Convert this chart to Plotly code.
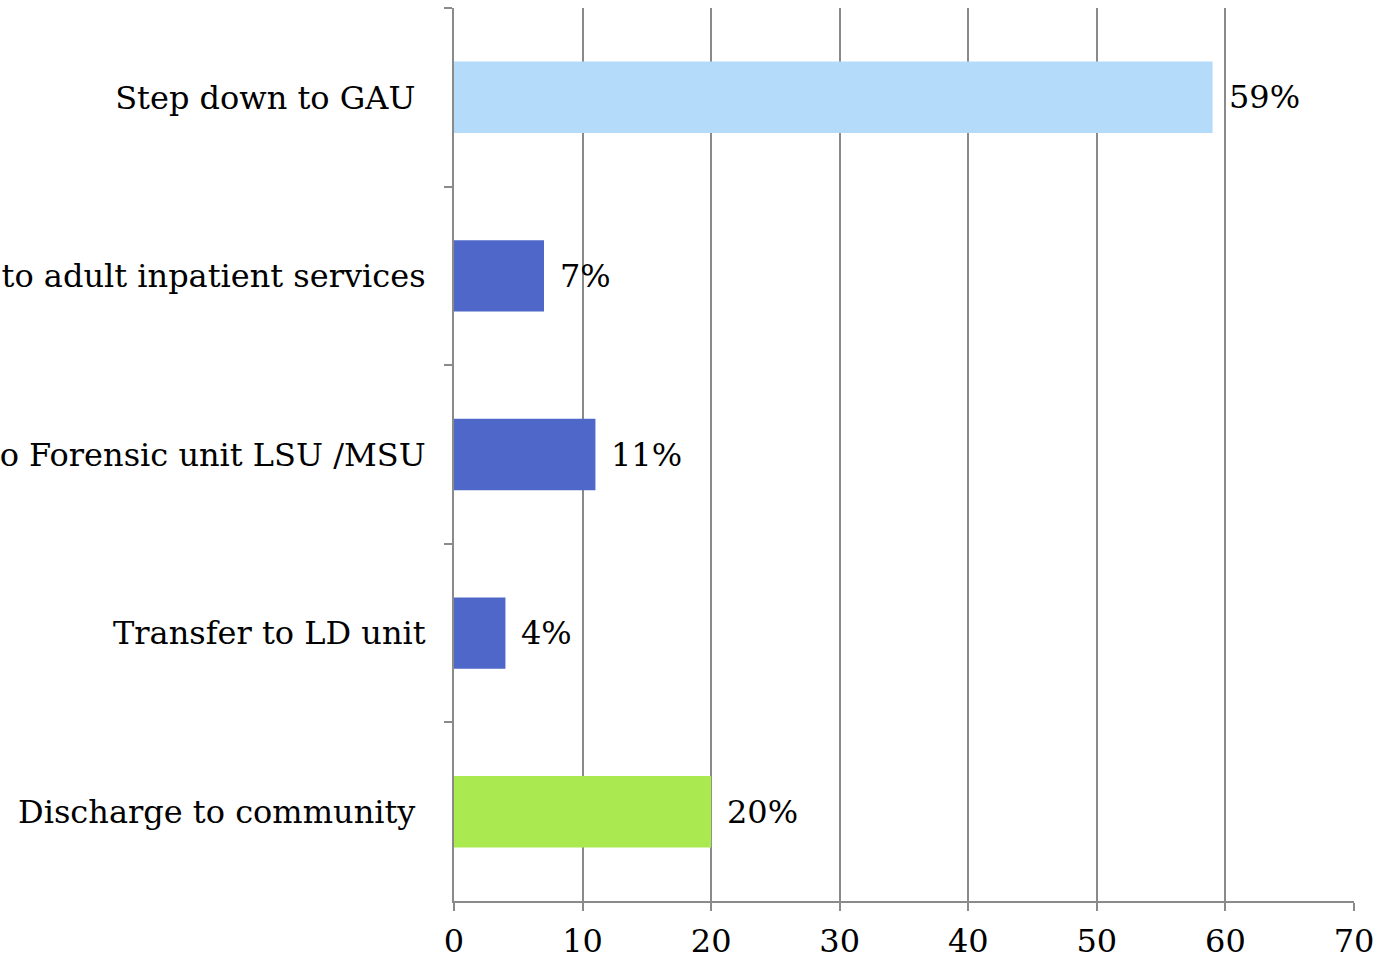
import plotly.graph_objects as go

# Discharge destinations (percent of patients)
categories = [
    "Step down to GAU\u00a0",
    "Transfer to adult inpatient services",
    "Transfer to Forensic unit LSU /MSU",
    "Transfer to LD unit",
    "Discharge to community\u00a0",
]
percentages = [59, 7, 11, 4, 20]
bar_colors = ["#b4dbfa", "#4f67c8", "#4f67c8", "#4f67c8", "#aaea50"]
x_ticks = [0, 10, 20, 30, 40, 50, 60, 70]

FONT = "DejaVu Serif"
FSIZE = 32
GRID = "#8a8a8a"

fig = go.Figure(
    go.Bar(
        x=percentages,
        y=categories,
        orientation="h",
        marker=dict(color=bar_colors, line=dict(width=0)),
        width=0.4,
        hoverinfo="skip",
    )
)

# Value labels just to the right of each bar
for cat, val in zip(categories, percentages):
    fig.add_annotation(
        x=val, y=cat, text=f"{val}%", showarrow=False,
        xanchor="left", yanchor="middle", xshift=14,
        font=dict(family=FONT, size=FSIZE, color="#000000"),
    )

fig.update_layout(
    width=1398, height=957,
    margin=dict(l=454, r=44, t=8, b=56),
    paper_bgcolor="white", plot_bgcolor="white",
    showlegend=False,
    font=dict(family=FONT, size=FSIZE, color="#000000"),
    bargap=0.6,
)

fig.update_xaxes(
    range=[0, 70], tickvals=x_ticks, ticktext=[str(t) for t in x_ticks],
    showgrid=True, gridcolor=GRID, gridwidth=2,
    showline=True, linecolor=GRID, linewidth=2,
    ticks="outside", ticklen=8, tickcolor=GRID, tickwidth=2,
    zeroline=False, automargin=False,
    ticklabelstandoff=3,
    tickfont=dict(family=FONT, size=FSIZE, color="#000000"),
)

fig.update_yaxes(
    autorange="reversed",
    showgrid=False, zeroline=False,
    showline=True, linecolor=GRID, linewidth=2,
    ticks="outside", tickson="boundaries", ticklen=8, tickcolor=GRID, tickwidth=2,
    automargin=False,
    ticklabelstandoff=20,
    tickfont=dict(family=FONT, size=FSIZE, color="#000000"),
)

fig.write_html("out.html")
